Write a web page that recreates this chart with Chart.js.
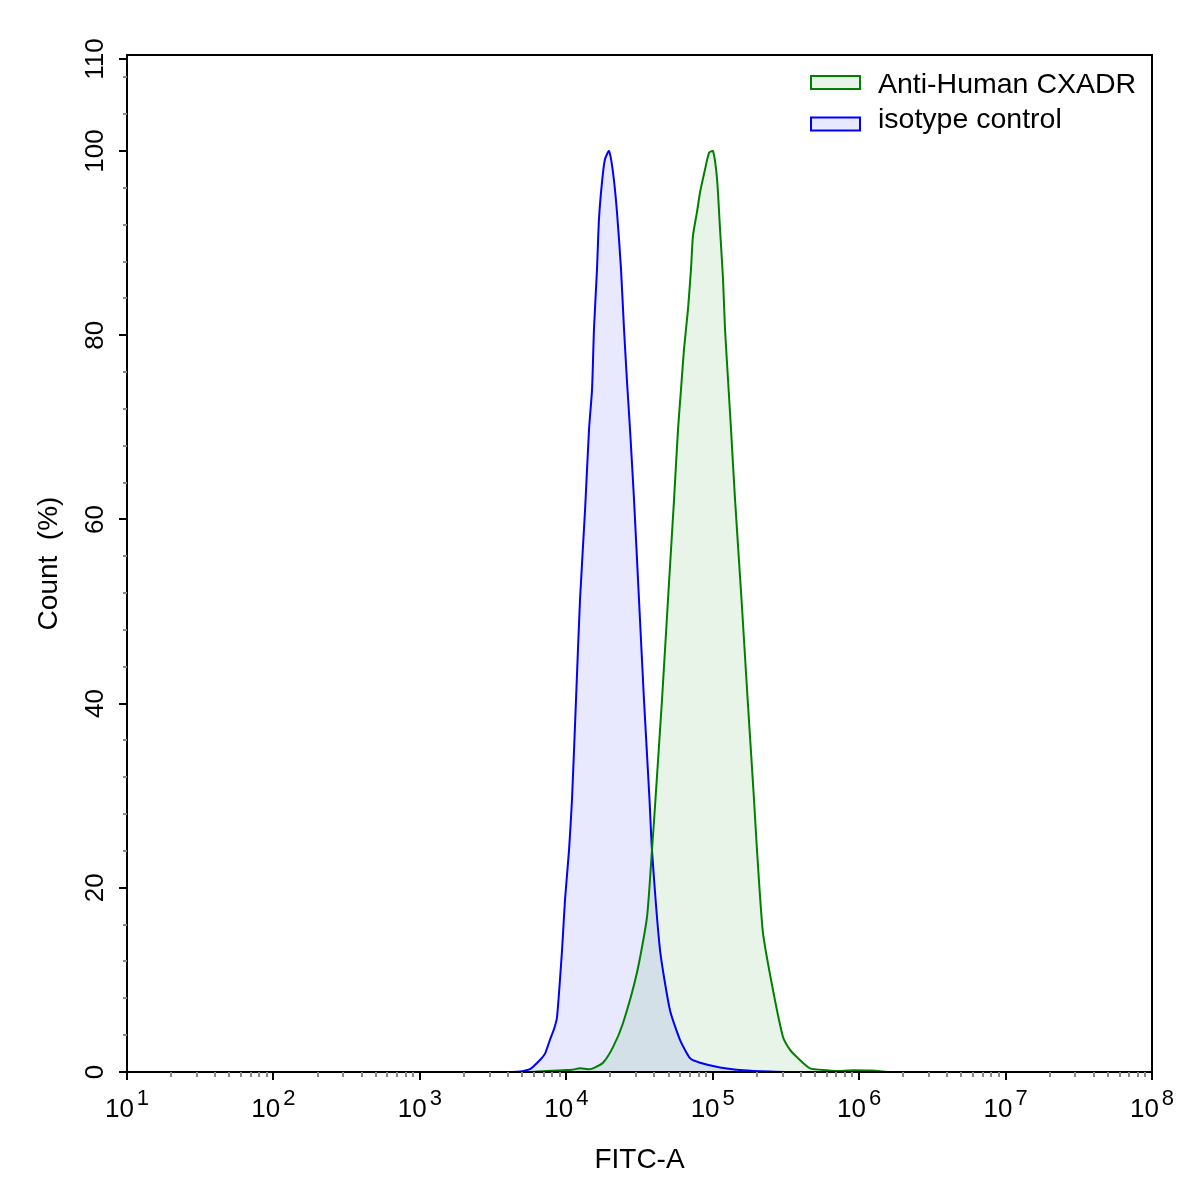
<!DOCTYPE html>
<html><head><meta charset="utf-8">
<script src="https://cdn.jsdelivr.net/npm/chart.js@4/dist/chart.umd.min.js"></script>
<style>html,body{margin:0;padding:0;background:#fff;}#wrap{width:1197px;height:1193px;}</style>
</head><body><div id="wrap"><canvas id="c" width="1197" height="1193"></canvas></div>
<script>
const seriesNames = ['Anti-Human CXADR', 'isotype control'];
const fitcAnti = [5650, 9510, 10940, 12410, 14070, 15210, 17810, 20840, 24390, 30400, 35560, 38480, 40640, 45040, 49500, 54450, 57960, 60720, 63660, 67770, 71070, 73300, 78110, 81910, 88580, 94360, 100500, 107000, 112200, 117600, 121300, 127200, 133300, 142000, 157300, 173300, 191400, 200600, 220400, 258000, 302000, 337500, 376700, 461700, 602800, 739800, 907000, 1185000, 1625000];
const countAnti = [0, 0.2, 0.25, 0.4, 0.3, 0.4, 1.0, 2.7, 5.3, 10.8, 16.8, 24.1, 29.6, 40.4, 51.3, 62.2, 69.8, 74.1, 78.5, 82.8, 87.2, 90.8, 93.4, 95.5, 98.0, 99.8, 100, 97.0, 91.5, 86.1, 80.7, 75.2, 69.8, 62.2, 51.3, 40.4, 29.6, 24.1, 15.1, 8.9, 3.8, 2.4, 1.6, 0.4, 0.2, 0.1, 0.2, 0.15, 0];
const fitcIso = [4130, 4830, 5650, 6610, 7160, 7740, 8300, 8650, 9360, 9800, 10440, 10940, 11650, 12410, 13430, 14300, 14990, 15460, 16210, 16720, 17530, 18370, 19580, 20840, 22190, 23640, 24780, 26000, 27240, 29000, 31370, 33940, 37010, 38480, 43630, 51070, 59780, 69970, 81910, 112200, 161200, 246000, 337000];
const countIso = [0, 0.05, 0.3, 1.3, 2.0, 3.5, 4.8, 6.0, 13.3, 18.7, 24.1, 29.6, 40.4, 51.3, 61.0, 69.8, 74.1, 80.7, 87.2, 92.6, 96.6, 99.1, 100, 97.7, 93.4, 87.2, 80.7, 74.9, 69.8, 62.2, 51.3, 40.4, 29.6, 24.1, 13.3, 6.7, 3.5, 1.5, 1.0, 0.5, 0.2, 0.05, 0];
const xTickExponents = [1, 2, 3, 4, 5, 6, 7, 8];
const yTickLabels = [0, 20, 40, 60, 80, 100, 110];
const xTitle = 'FITC-A';
const yTitle = 'Count  (%)';

const lineColors = ['#008000', '#0000ff'];
const fillColors = ['rgba(0,128,0,0.09)', 'rgba(0,0,255,0.09)'];
const FONT = '"Liberation Sans", Arial, sans-serif';

function pts(xs, ys) { return xs.map((x, i) => ({x: x, y: ys[i]})); }

const decor = {
  id: 'decor',
  afterDraw(chart) {
    const ctx = chart.ctx, a = chart.chartArea;
    const xs = chart.scales.x, ys = chart.scales.y;
    ctx.save();
    // frame
    ctx.strokeStyle = '#000'; ctx.lineWidth = 2;
    ctx.beginPath();
    ctx.moveTo(a.left, a.bottom); ctx.lineTo(a.left, a.top); ctx.lineTo(a.right, a.top);
    ctx.lineTo(a.right, a.bottom); ctx.lineTo(a.left, a.bottom);
    ctx.stroke();
    // x minor ticks
    ctx.strokeStyle = '#8a8a8a'; ctx.lineWidth = 2;
    for (let e = xTickExponents[0]; e < xTickExponents[xTickExponents.length - 1]; e++) {
      for (let k = 2; k <= 9; k++) {
        const px = Math.round(xs.getPixelForValue(k * Math.pow(10, e)));
        ctx.beginPath(); ctx.moveTo(px, a.bottom); ctx.lineTo(px, a.bottom + 5); ctx.stroke();
      }
    }
    // y minor ticks
    for (let v = 4; v < ys.max; v += 4) {
      if (v % 20 === 0) continue;
      const py = Math.round(ys.getPixelForValue(v));
      ctx.beginPath(); ctx.moveTo(a.left, py); ctx.lineTo(a.left - 4, py); ctx.stroke();
    }
    // major ticks
    ctx.strokeStyle = '#000'; ctx.lineWidth = 2;
    xTickExponents.forEach(e => {
      const px = Math.round(xs.getPixelForValue(Math.pow(10, e)));
      ctx.beginPath(); ctx.moveTo(px, a.bottom); ctx.lineTo(px, a.bottom + 8); ctx.stroke();
    });
    yTickLabels.forEach(v => {
      const py = Math.round(ys.getPixelForValue(v));
      ctx.beginPath(); ctx.moveTo(a.left, py); ctx.lineTo(a.left - 8, py); ctx.stroke();
    });
    // x labels
    ctx.fillStyle = '#000'; ctx.textBaseline = 'alphabetic'; ctx.textAlign = 'left';
    xTickExponents.forEach(e => {
      const px = xs.getPixelForValue(Math.pow(10, e));
      ctx.font = '26px ' + FONT;
      const w1 = ctx.measureText('10').width;
      ctx.font = '22px ' + FONT;
      const w2 = ctx.measureText(String(e)).width;
      const gap = 3;
      const x0 = px - (w1 + gap + w2) / 2;
      ctx.font = '26px ' + FONT;
      ctx.fillText('10', x0, a.bottom + 45);
      ctx.font = '22px ' + FONT;
      ctx.fillText(String(e), x0 + w1 + gap, a.bottom + 33);
    });
    // y labels
    ctx.font = '26px ' + FONT; ctx.textAlign = 'center';
    yTickLabels.forEach(v => {
      const py = ys.getPixelForValue(v);
      ctx.save(); ctx.translate(103, py); ctx.rotate(-Math.PI / 2);
      ctx.fillText(String(v), 0, 0); ctx.restore();
    });
    // titles
    ctx.font = '28px ' + FONT; ctx.textAlign = 'center';
    ctx.fillText(xTitle, (a.left + a.right) / 2, 1168);
    ctx.save(); ctx.translate(57, (a.top + a.bottom) / 2); ctx.rotate(-Math.PI / 2);
    ctx.fillText(yTitle, 0, 0); ctx.restore();
    // legend
    ctx.textAlign = 'left'; ctx.font = '28.5px ' + FONT;
    const rows = [{box: 76, base: 93}, {box: 117.5, base: 128}];
    seriesNames.forEach((n, i) => {
      ctx.fillStyle = fillColors[i];
      ctx.fillRect(811, rows[i].box, 49, 13);
      ctx.strokeStyle = lineColors[i]; ctx.lineWidth = 2;
      ctx.strokeRect(811, rows[i].box, 49, 13);
      ctx.fillStyle = '#000';
      ctx.fillText(n, 878, rows[i].base);
    });
    ctx.restore();
  }
};

new Chart(document.getElementById('c'), {
  type: 'line',
  data: {
    datasets: [
      {label: seriesNames[0], data: pts(fitcAnti, countAnti), borderColor: lineColors[0], backgroundColor: fillColors[0], borderWidth: 2, fill: 'origin', tension: 0.2, pointRadius: 0},
      {label: seriesNames[1], data: pts(fitcIso, countIso), borderColor: lineColors[1], backgroundColor: fillColors[1], borderWidth: 2, fill: 'origin', tension: 0.2, pointRadius: 0}
    ]
  },
  options: {
    responsive: false, animation: false,
    layout: {padding: {left: 127, top: 55, right: 45, bottom: 121}},
    plugins: {legend: {display: false}, tooltip: {enabled: false}, filler: {drawTime: 'beforeDatasetsDraw'}},
    scales: {
      x: {type: 'logarithmic', min: 10, max: 1e8, display: false},
      y: {type: 'linear', min: 0, max: 110.43, display: false}
    }
  },
  plugins: [decor]
});
</script></body></html>
